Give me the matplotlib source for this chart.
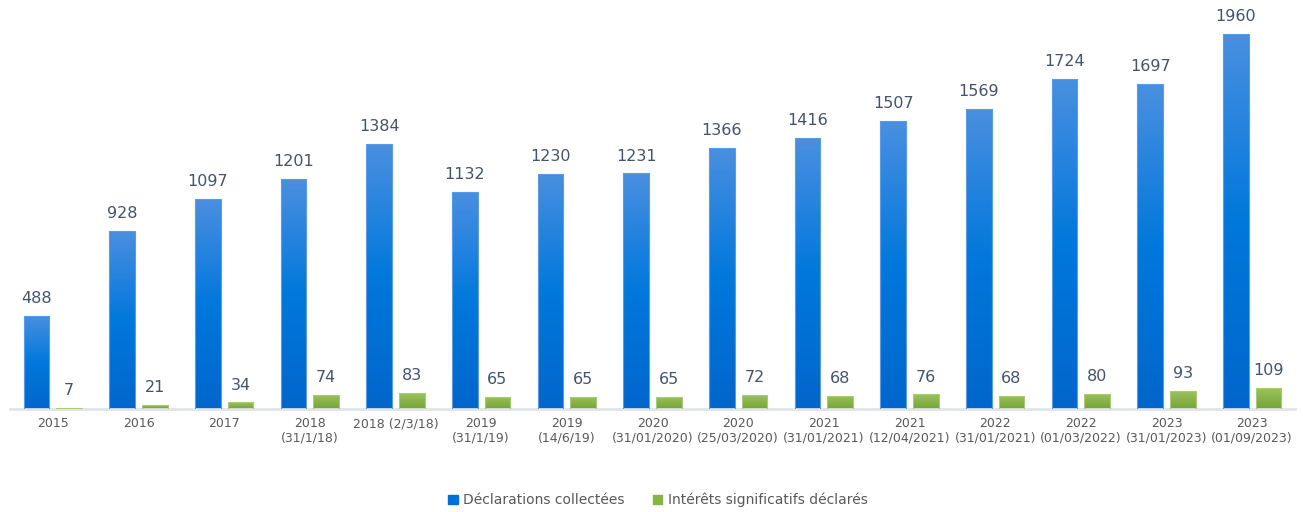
import numpy as np
import matplotlib.pyplot as plt
from matplotlib.colors import LinearSegmentedColormap
from matplotlib.patches import Patch

categories = ['2015', '2016', '2017', '2018\n(31/1/18)', '2018 (2/3/18)', '2019\n(31/1/19)',
              '2019\n(14/6/19)', '2020\n(31/01/2020)', '2020\n(25/03/2020)', '2021\n(31/01/2021)',
              '2021\n(12/04/2021)', '2022\n(31/01/2021)', '2022\n(01/03/2022)', '2023\n(31/01/2023)',
              '2023\n(01/09/2023)']
declarations = [488, 928, 1097, 1201, 1384, 1132, 1230, 1231, 1366, 1416, 1507, 1569, 1724, 1697, 1960]
interets = [7, 21, 34, 74, 83, 65, 65, 65, 72, 68, 76, 68, 80, 93, 109]

blue_cmap = LinearSegmentedColormap.from_list('b', ['#0066cc', '#0078dc', '#4a8fe0'])
green_cmap = LinearSegmentedColormap.from_list('g', ['#74a436', '#9cc25c'])

fig = plt.figure(figsize=(13.03, 5.12), dpi=100)
ax = fig.add_axes([10 / 1303, 103 / 512, 1285 / 1303, 409 / 512])

x = np.arange(len(categories))
w = 0.30
gap = 0.08
ymax = 1960 * 409 / 375
grad = np.linspace(0, 1, 256).reshape(-1, 1)


def gradient_bars(xs, heights, cmap, edge):
    bars = ax.bar(xs, heights, w, color='none', edgecolor=edge, linewidth=0.8, zorder=3)
    for b in bars:
        x0, h = b.get_x(), b.get_height()
        im = ax.imshow(grad, cmap=cmap, origin='lower', aspect='auto',
                       extent=[x0, x0 + w, 0, h], zorder=2)
        im.set_clip_path(b)
    return bars


b1 = gradient_bars(x - (w + gap) / 2, declarations, blue_cmap, '#5a9be6')
b2 = gradient_bars(x + (w + gap) / 2, interets, green_cmap, '#a9cc72')

for bars, vals in [(b1, declarations), (b2, interets)]:
    for b, v in zip(bars, vals):
        ax.text(b.get_x() + w / 2, v + 52, str(v), ha='center', va='bottom',
                fontsize=11.5, color='#44546a')

ax.set_xlim(-0.5, len(categories) - 0.5)
ax.set_ylim(0, ymax)
for s in ['top', 'right', 'left']:
    ax.spines[s].set_visible(False)
ax.spines['bottom'].set_color('#e0e3e8')
ax.spines['bottom'].set_linewidth(2)
ax.set_yticks([])
ax.set_xticks(x)
ax.set_xticklabels(categories, fontsize=9, color='#595959', linespacing=1.1)
ax.tick_params(axis='x', length=0, pad=6)

handles = [Patch(color='#0070d8', label='Déclarations collectées'),
           Patch(color='#86b446', label='Intérêts significatifs déclarés')]
fig.legend(handles=handles, loc='center', bbox_to_anchor=(0.505, 12 / 512), ncol=2,
           frameon=False, fontsize=10, handlelength=0.7, handleheight=0.7,
           handletextpad=0.4, columnspacing=2.0, labelcolor='#595959')

fig.savefig('out.png', dpi=100)
